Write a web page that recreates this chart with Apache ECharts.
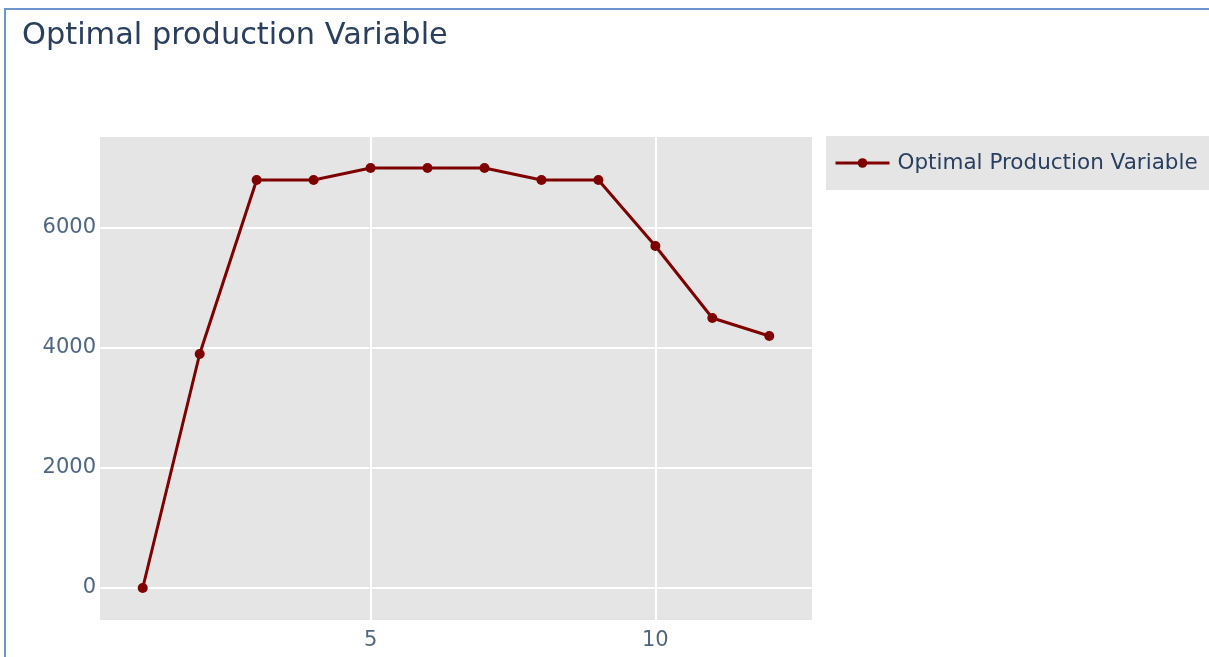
<!DOCTYPE html>
<html>
<head>
<meta charset="utf-8">
<script src="https://cdn.jsdelivr.net/npm/echarts@6/dist/echarts.min.js"></script>
<style>
html,body{margin:0;padding:0;background:#fff;}
#wrap{position:relative;width:1209px;height:657px;overflow:hidden;}
#border{position:absolute;left:4px;top:8px;width:1300px;height:800px;border-left:2px solid #6b95cc;border-top:2px solid #6b95cc;box-sizing:border-box;pointer-events:none;}
#chart{position:absolute;left:0;top:0;width:1209px;height:657px;}
</style>
</head>
<body>
<div id="wrap"><div id="chart"></div><div id="border"></div></div>
<script>
const titleText = 'Optimal production Variable';
const seriesName = 'Optimal Production Variable';
const xValues = [1, 2, 3, 4, 5, 6, 7, 8, 9, 10, 11, 12];
const yValues = [0, 3900, 6800, 6800, 7000, 7000, 7000, 6800, 6800, 5700, 4500, 4200];
const xTicks = [5, 10];
const yTicks = [0, 2000, 4000, 6000];

const chart = echarts.init(document.getElementById('chart'));
const font = 'DejaVu Sans, Verdana, sans-serif';
chart.setOption({
  animation: false,
  backgroundColor: '#ffffff',
  title: {
    text: titleText,
    left: 17,
    top: 16,
    textStyle: {fontFamily: font, fontSize: 30.4, fontWeight: 'normal', color: '#2a3f5f'}
  },
  legend: {
    left: 826,
    top: 136,
    padding: [16, 40, 16, 8],
    backgroundColor: '#e5e5e5',
    itemWidth: 54,
    itemHeight: 12,
    itemGap: 10,
    itemStyle: {color: '#7f0000'},
    lineStyle: {width: 3, color: '#7f0000'},
    textStyle: {fontFamily: font, fontSize: 21.5, color: '#2a3f5f', padding: [3, 0, 0, 3]},
    data: [seriesName]
  },
  grid: {left: 100, right: 397, top: 137, bottom: 37, containLabel: false,
         show: true, backgroundColor: '#e5e5e5', borderWidth: 0},
  xAxis: {
    type: 'value',
    min: 0.25,
    max: 12.75,
    axisLine: {show: false},
    axisTick: {show: false, customValues: xTicks},
    axisLabel: {customValues: xTicks, fontFamily: font, fontSize: 21, color: '#506784', margin: 10},
    splitLine: {show: true, lineStyle: {color: '#ffffff', width: 2}}
  },
  yAxis: {
    type: 'value',
    min: -533.33,
    max: 7516.67,
    axisLine: {show: false},
    axisTick: {show: false, customValues: yTicks},
    axisLabel: {customValues: yTicks, fontFamily: font, fontSize: 21, color: '#506784', margin: 4,
                formatter: v => String(v)},
    splitLine: {show: true, lineStyle: {color: '#ffffff', width: 2}}
  },
  series: [{
    name: seriesName,
    type: 'line',
    data: xValues.map((x, i) => [x, yValues[i]]),
    symbol: 'circle',
    symbolSize: 10,
    showAllSymbol: true,
    lineStyle: {color: '#7f0000', width: 3},
    itemStyle: {color: '#7f0000'},
    z: 5
  }]
});
</script>
</body>
</html>
